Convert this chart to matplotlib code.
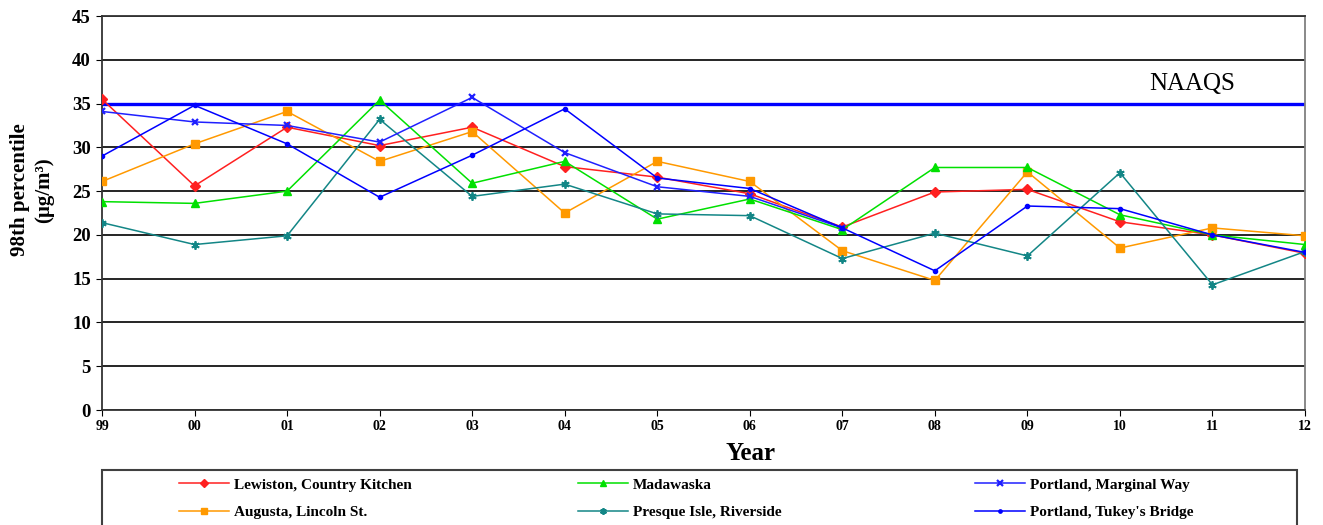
import numpy as np
import matplotlib
matplotlib.use('Agg')
import matplotlib.pyplot as plt
from matplotlib.patches import Rectangle

plt.rcParams['font.family'] = ['Liberation Serif', 'DejaVu Serif']

years = ['99', '00', '01', '02', '03', '04', '05', '06', '07', '08', '09', '10', '11', '12']
lewiston = [35.5, 25.6, 32.3, 30.2, 32.3, 27.8, 26.6, 24.7, 20.9, 24.9, 25.2, 21.5, 20.0, 17.9]
madawaska = [23.8, 23.6, 25.0, 35.4, 25.9, 28.4, 21.8, 24.1, 20.6, 27.7, 27.7, 22.3, 20.0, 18.9]
marginal_way = [34.1, 32.9, 32.5, 30.6, 35.7, 29.4, 25.5, 24.4, 20.8,
                np.nan, np.nan, np.nan, np.nan, np.nan]
augusta = [26.1, 30.4, 34.1, 28.4, 31.8, 22.5, 28.4, 26.1, 18.2, 14.8, 27.2, 18.5, 20.8, 19.9]
presque_isle = [21.4, 18.9, 19.9, 33.2, 24.4, 25.8, 22.4, 22.2, 17.3, 20.2, 17.6, 27.1, 14.3, 18.1]
tukeys_bridge = [29.0, 34.8, 30.4, 24.3, 29.1, 34.4, 26.5, 25.3, 20.8, 15.9, 23.3, 23.0, 20.0, 18.0]
naaqs = 35

x = np.arange(len(years))

fig = plt.figure(figsize=(13.23, 5.25), dpi=100)
ax = fig.add_axes([0.0771, 0.2190, 0.9093, 0.7505])

# NAAQS standard
ax.axhline(naaqs, color='#0000FF', lw=2.4, zorder=2)
ax.text(11.32, 36.0, 'NAAQS', fontsize=18, ha='left', va='bottom')

series = [
    ('Lewiston, Country Kitchen', lewiston, '#FF2020', 'D', 5, {}),
    ('Augusta, Lincoln St.', augusta, '#FF9900', 's', 6, {}),
    ('Madawaska', madawaska, '#00E000', '^', 6, {}),
    ('Presque Isle, Riverside', presque_isle, '#138686', (6, 2, 0), 6, {'mew': 1.3}),
    ('Portland, Marginal Way', marginal_way, '#2020FF', 'x', 5, {'mew': 1.6}),
    ("Portland, Tukey's Bridge", tukeys_bridge, '#0000FF', 'o', 3, {}),
]

handles = []
for label, vals, color, marker, ms, kw in series:
    h, = ax.plot(x, vals, color=color, lw=1.1, marker=marker, ms=ms,
                 mec=color, mfc=color, label=label, zorder=3, **kw)
    handles.append(h)

ax.set_xlim(0, 13)
ax.set_ylim(0, 45)
ax.set_xticks(x)
ax.set_xticklabels(years, fontweight='bold', fontsize=10)
ax.set_yticks(np.arange(0, 46, 5))
ax.tick_params(axis='y', labelsize=13.5, length=4, direction='out', pad=4)
ax.tick_params(axis='x', length=4, direction='out', pad=3)
for lbl in ax.get_yticklabels():
    lbl.set_fontweight('bold')

ax.yaxis.grid(True, color='black', lw=1.2)
ax.set_axisbelow(True)
ax.spines['left'].set_color('#333333')
ax.spines['bottom'].set_color('#333333')
ax.spines['right'].set_color('#808080')
ax.spines['top'].set_color('#333333')
for s in ax.spines.values():
    s.set_linewidth(1.3)

fig.text(32 / 1323, 1 - 190 / 525, '98th percentile\n(\u00b5g/m\u00b3)', rotation=90,
         ha='center', va='center', fontsize=15, fontweight='bold',
         multialignment='center', linespacing=1.3)
fig.text(751 / 1323, 1 - 454 / 525, 'Year', ha='center', va='center',
         fontsize=18, fontweight='bold')

# legend frame
fig.patches.append(Rectangle((102 / 1323, -0.02), (1297 - 102) / 1323, 0.02 + 1 - 470 / 525,
                             transform=fig.transFigure, fill=False,
                             edgecolor='#404040', lw=1.5))

col_x = [179, 578, 975]
for i, cx in enumerate(col_x):
    hs = handles[2 * i:2 * i + 2]
    fig.legend(hs, [h.get_label() for h in hs], loc='upper left',
               bbox_to_anchor=(cx / 1323, 1 - 478 / 525), frameon=False,
               prop={'weight': 'bold', 'size': 11}, handlelength=3.3,
               handletextpad=0.3, borderpad=0, borderaxespad=0,
               labelspacing=0.9, markerscale=0.8)

fig.savefig('out.png', dpi=100)
